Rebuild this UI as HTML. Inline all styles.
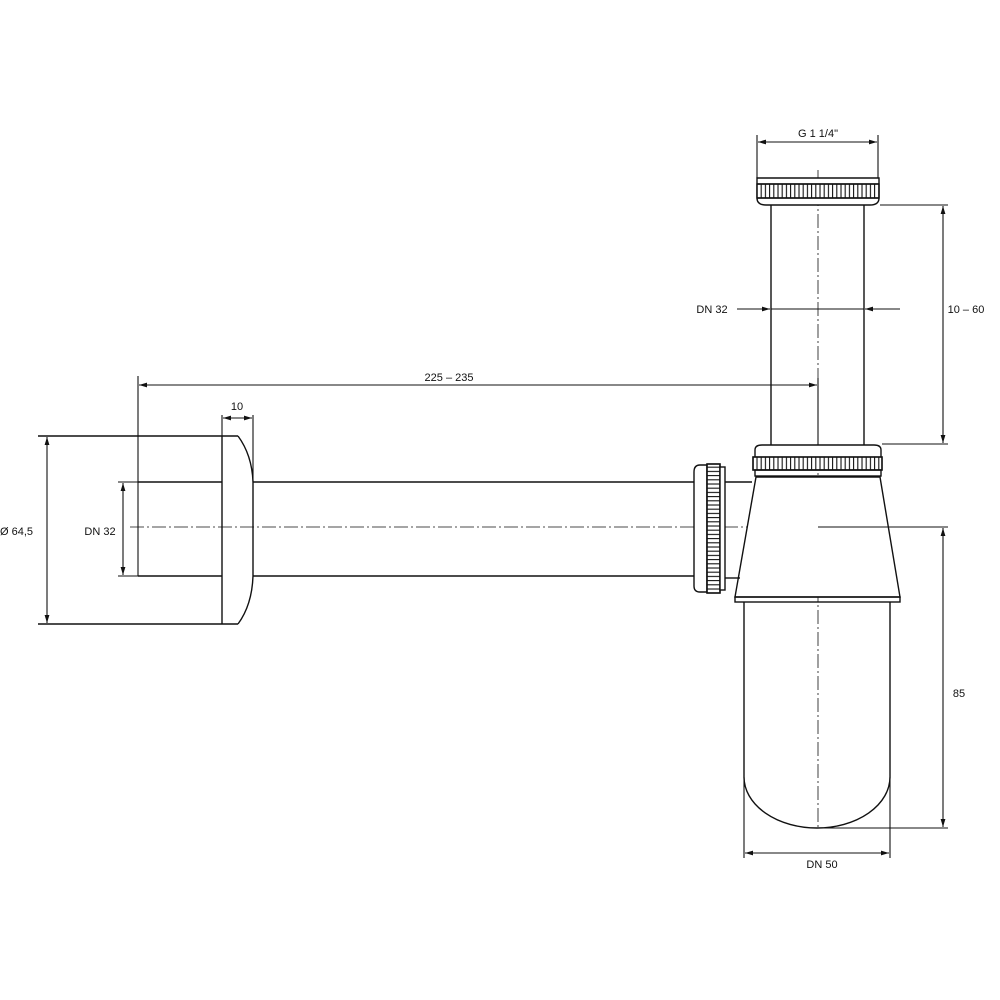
<!DOCTYPE html>
<html><head><meta charset="utf-8"><style>
html,body{margin:0;padding:0;background:#fff;}
svg{display:block}
text{font-family:"Liberation Sans",Arial,sans-serif;font-size:11px;fill:#111;}
</style></head><body>
<svg width="1000" height="1000" viewBox="0 0 1000 1000" xmlns="http://www.w3.org/2000/svg">
<defs>
<pattern id="kv" x="0" y="0" width="4.2" height="10" patternUnits="userSpaceOnUse"><rect width="4.2" height="10" fill="#fff"/><line x1="1" y1="0" x2="1" y2="10" stroke="#111" stroke-width="1.1"/></pattern>
<pattern id="kh" x="0" y="0" width="10" height="4.2" patternUnits="userSpaceOnUse"><rect width="10" height="4.2" fill="#fff"/><line x1="0" y1="1" x2="10" y2="1" stroke="#111" stroke-width="1.1"/></pattern>
<marker id="a" viewBox="0 0 10 6" refX="10" refY="3" markerWidth="8" markerHeight="5" orient="auto-start-reverse" markerUnits="userSpaceOnUse"><path d="M0,0 L10,3 L0,6 z" fill="#111"/></marker>
</defs>
<g stroke="#111" stroke-width="1.4" fill="none">
<!-- centerlines -->
<line x1="130" y1="527" x2="818" y2="527" stroke-width="0.8" stroke-dasharray="14,3,2,3"/>
<line x1="818" y1="170" x2="818" y2="830" stroke-width="0.8" stroke-dasharray="14,3,2,3"/>
<!-- upper tube -->
<line x1="771" y1="205" x2="771" y2="445"/>
<line x1="864" y1="205" x2="864" y2="445"/>
<!-- top nut -->
<path d="M757,178 H879 V198 Q879,205 870,205 H766 Q757,205 757,198 Z" fill="#fff"/>
<rect x="757" y="184" width="122" height="14" fill="url(#kv)"/>
<line x1="757" y1="184" x2="879" y2="184"/>
<line x1="757" y1="198" x2="879" y2="198"/>
<!-- lower nut -->
<path d="M755,457 V450 Q755,445 762,445 H874 Q881,445 881,450 V457" fill="#fff"/>
<rect x="753" y="457" width="129" height="13" fill="url(#kv)"/>
<rect x="753" y="457" width="129" height="13"/>
<rect x="755" y="470" width="126" height="6"/>
<!-- cone -->
<path d="M756,477 L735,597 H900 L880,477 Z" fill="#fff"/>
<rect x="735" y="597" width="165" height="5"/>
<!-- bowl -->
<path d="M744,602 V777 A73,51 0 0 0 890,777 V602"/>
<!-- horizontal pipe -->
<line x1="253" y1="482" x2="694" y2="482"/>
<line x1="253" y1="576" x2="694" y2="576"/>
<line x1="138" y1="482" x2="222" y2="482"/>
<line x1="138" y1="576" x2="222" y2="576"/>
<!-- rosette -->
<line x1="38" y1="436" x2="238" y2="436"/>
<line x1="38" y1="624" x2="238" y2="624"/>
<line x1="222" y1="436" x2="222" y2="624"/>
<path d="M238,436 Q252,455 253,482 V576 Q252,605 238,624"/>
<!-- spigot -->
<line x1="725" y1="482" x2="752" y2="482"/>
<line x1="725" y1="578" x2="740" y2="578"/>
<!-- side nut -->
<path d="M707,465 H700 Q694,465 694,472 V586 Q694,592 700,592 H707 Z" fill="#fff"/>
<rect x="707" y="464" width="13" height="129" fill="url(#kh)"/>
<rect x="707" y="464" width="13" height="129"/>
<rect x="720" y="467" width="5" height="123" fill="#fff"/>
</g>
<g stroke="#111" stroke-width="1.1" fill="none">
<!-- G 1 1/4 -->
<line x1="757" y1="135" x2="757" y2="178"/>
<line x1="878" y1="135" x2="878" y2="178"/>
<line x1="758" y1="142" x2="877" y2="142" marker-start="url(#a)" marker-end="url(#a)"/>
<!-- DN32 upper -->
<line x1="737" y1="309" x2="770" y2="309" marker-end="url(#a)"/>
<line x1="771" y1="309" x2="864" y2="309"/>
<line x1="900" y1="309" x2="865" y2="309" marker-end="url(#a)"/>
<!-- 10-60 -->
<line x1="880" y1="205" x2="948" y2="205"/>
<line x1="882" y1="444" x2="948" y2="444"/>
<line x1="943" y1="206" x2="943" y2="443" marker-start="url(#a)" marker-end="url(#a)"/>
<!-- 225-235 -->
<line x1="138" y1="376" x2="138" y2="576"/>
<line x1="818" y1="378" x2="818" y2="445"/>
<line x1="139" y1="385" x2="817" y2="385" marker-start="url(#a)" marker-end="url(#a)"/>
<!-- 10 -->
<line x1="222" y1="415" x2="222" y2="436"/>
<line x1="253" y1="415" x2="253" y2="482"/>
<line x1="223" y1="418" x2="252" y2="418" marker-start="url(#a)" marker-end="url(#a)"/>
<!-- Ø 64,5 -->
<line x1="47" y1="437" x2="47" y2="623" marker-start="url(#a)" marker-end="url(#a)"/>
<!-- DN32 left -->
<line x1="118" y1="482" x2="138" y2="482"/>
<line x1="118" y1="576" x2="138" y2="576"/>
<line x1="123" y1="483" x2="123" y2="575" marker-start="url(#a)" marker-end="url(#a)"/>
<!-- 85 -->
<line x1="818" y1="527" x2="948" y2="527"/>
<line x1="818" y1="828" x2="948" y2="828"/>
<line x1="943" y1="528" x2="943" y2="827" marker-start="url(#a)" marker-end="url(#a)"/>
<!-- DN 50 -->
<line x1="744" y1="777" x2="744" y2="858"/>
<line x1="890" y1="777" x2="890" y2="858"/>
<line x1="745" y1="853" x2="889" y2="853" marker-start="url(#a)" marker-end="url(#a)"/>
</g>
<text x="818" y="137" text-anchor="middle">G 1 1/4"</text>
<text x="712" y="313" text-anchor="middle">DN 32</text>
<text x="966" y="313" text-anchor="middle">10 – 60</text>
<text x="449" y="381" text-anchor="middle">225 – 235</text>
<text x="237" y="410" text-anchor="middle">10</text>
<text x="0" y="535">Ø 64,5</text>
<text x="100" y="535" text-anchor="middle">DN 32</text>
<text x="959" y="697" text-anchor="middle">85</text>
<text x="822" y="868" text-anchor="middle">DN 50</text>
</svg>
</body></html>
